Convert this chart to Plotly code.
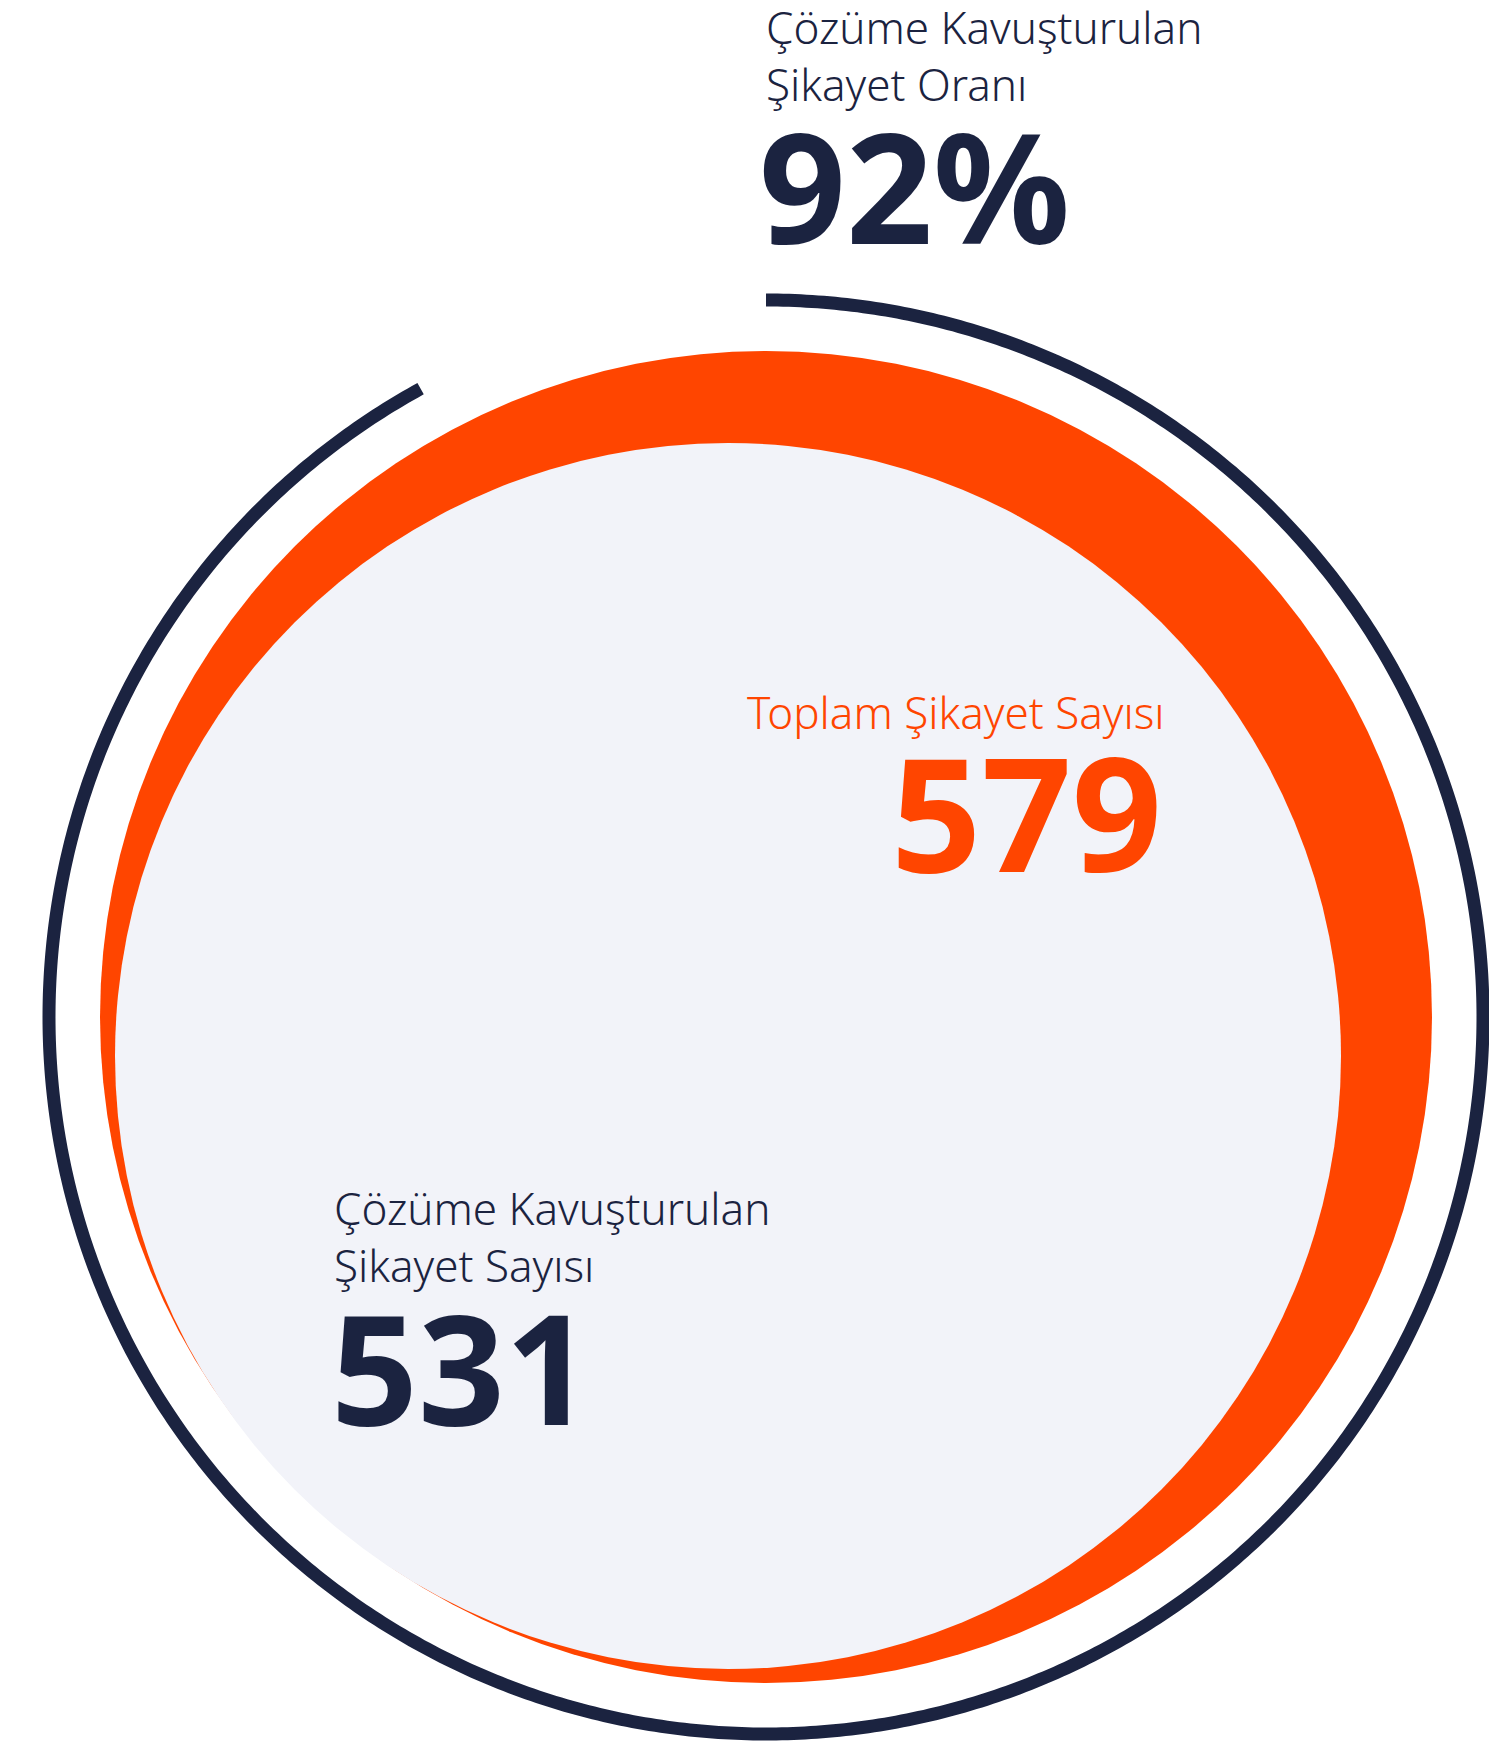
import numpy as np
import plotly.graph_objects as go

# values shown on the chart
total_complaints = 579
resolved_complaints = 531
resolution_rate = 92  # percent

rate_label = ["Çözüme Kavuşturulan", "Şikayet Oranı"]
total_label = ["Toplam Şikayet Sayısı"]
resolved_label = ["Çözüme Kavuşturulan", "Şikayet Sayısı"]

NAVY = "#1b2340"
ORANGE = "#ff4500"
PALE = "#f2f3f9"
FONT = "Noto Sans"

W, H = 1497, 1744
PAGE_PAD = 8  # default body margin of the html page
cx, cy, ring_r = 766, 1017, 717


def text_tag(text, x, y, size, color, bold=False, xanchor="left"):
    """annotation placed by its bottom edge (a little under the baseline)"""
    return dict(
        x=x, y=y, xref="x", yref="y",
        text=f"<b>{text}</b>" if bold else text,
        showarrow=False,
        xanchor=xanchor, yanchor="bottom", align=xanchor,
        font=dict(family=FONT, size=size, color=color,
                  weight=700 if bold else 300),
    )


fig = go.Figure()

# orange crescent: big orange disc with a pale disc shifted up-left on top
fig.add_shape(type="circle", xref="x", yref="y",
              x0=cx - 666, x1=cx + 666, y0=cy - 666, y1=cy + 666,
              fillcolor=ORANGE, line=dict(width=0), layer="below")
fig.add_shape(type="circle", xref="x", yref="y",
              x0=728 - 613, x1=728 + 613, y0=1056 - 613, y1=1056 + 613,
              fillcolor=PALE, line=dict(width=0), layer="below")

# resolution rate arc, clockwise from 12 o'clock
theta = np.linspace(0, 2 * np.pi * resolution_rate / 100, 720)
fig.add_trace(go.Scatter(
    x=cx + ring_r * np.sin(theta),
    y=cy - ring_r * np.cos(theta),
    mode="lines",
    line=dict(color=NAVY, width=13, simplify=False),
    hoverinfo="skip",
    showlegend=False,
))

# rate block at the top
fig.add_annotation(text_tag("<br>".join(rate_label), 764, 116, 44, NAVY))
fig.add_annotation(text_tag(f"{resolution_rate}%", 757, 291, 152, NAVY, bold=True))

# total block, right aligned
fig.add_annotation(text_tag(total_label[0], 1167, 744, 44, ORANGE, xanchor="right"))
fig.add_annotation(text_tag(f"{total_complaints}", 1164, 920, 158, ORANGE, bold=True, xanchor="right"))

# resolved block
fig.add_annotation(text_tag("<br>".join(resolved_label), 332, 1297, 44, NAVY))
fig.add_annotation(text_tag(f"{resolved_complaints}", 329, 1472, 152, NAVY, bold=True))

fig.update_layout(
    width=W, height=H,
    margin=dict(l=0, r=0, t=0, b=0),
    paper_bgcolor="white", plot_bgcolor="white",
    # shift the view so page pixels line up with the reference despite the body margin
    xaxis=dict(range=[PAGE_PAD, W + PAGE_PAD], visible=False, fixedrange=True),
    yaxis=dict(range=[H + PAGE_PAD, PAGE_PAD], visible=False, fixedrange=True),
    showlegend=False,
)

fig.write_html("out.html")
